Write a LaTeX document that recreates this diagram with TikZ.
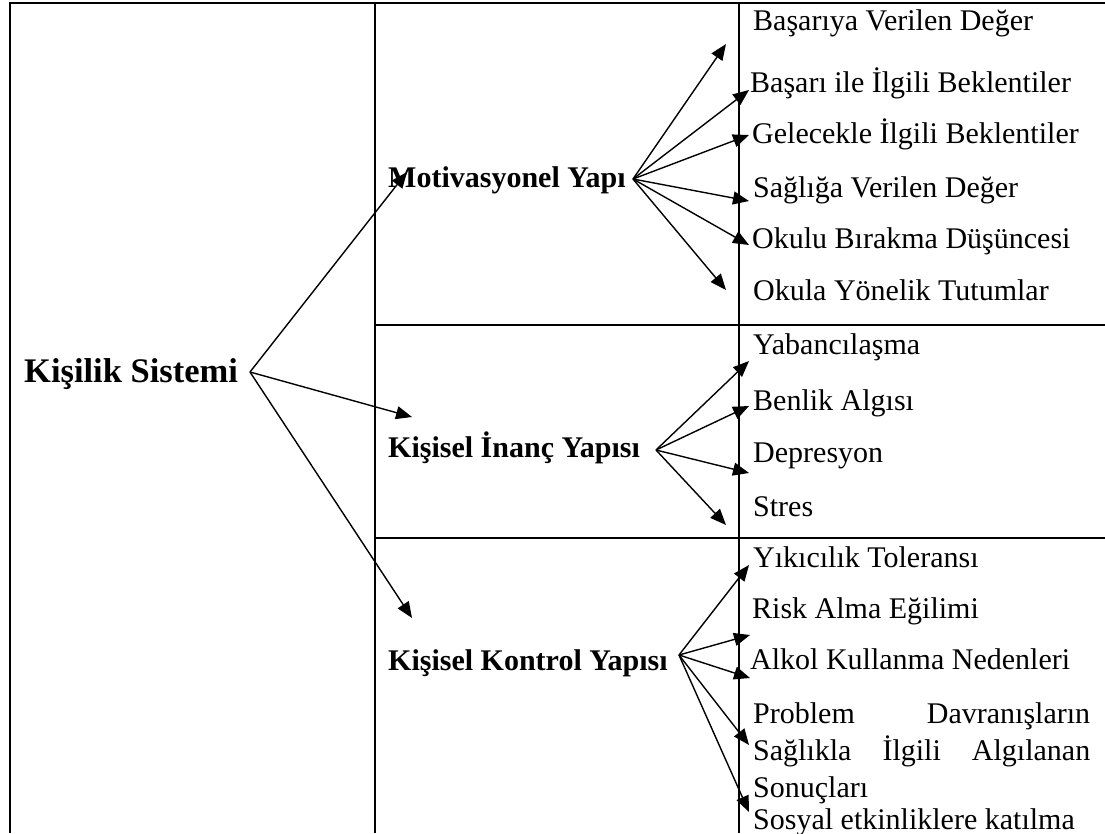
\documentclass[tikz,border=0pt]{standalone}
\usepackage{fontspec}
\setmainfont{Liberation Serif}
\usetikzlibrary{arrows.meta}
\begin{document}
\begin{tikzpicture}[x=1pt,y=-1pt,
  frame/.style={line width=1.6pt},
  conn/.style={line width=1.4pt,-{Triangle[length=16pt,width=13pt]}},
  lbl/.style={anchor=base west,inner sep=0pt,font=\fontsize{30}{36}\selectfont},
  mid/.style={anchor=base west,inner sep=0pt,font=\fontsize{30}{36}\selectfont\bfseries},
  topl/.style={anchor=base west,inner sep=0pt,font=\fontsize{34.5}{40}\selectfont\bfseries}]
\useasboundingbox (0,0) rectangle (1105,833);
% table frame
\draw[frame] (10,833) -- (10,3) -- (1105,3);
\draw[frame] (375,3) -- (375,833);
\draw[frame] (739,3) -- (739,833);
\draw[frame] (375,325) -- (1105,325);
\draw[frame] (375,538) -- (1105,538);
% main nodes
\node[topl] (ks) at (24,382) {Kişilik Sistemi};
\node[mid] (mot) at (388,187) {Motivasyonel Yapı};
\node[mid] (inanc) at (388,457) {Kişisel İnanç Yapısı};
\node[mid] (kontrol) at (388,670) {Kişisel Kontrol Yapısı};
% right labels
\node[lbl] (m1) at (753,30) {Başarıya Verilen Değer};
\node[lbl] (m2) at (750,92) {Başarı ile İlgili Beklentiler};
\node[lbl] (m3) at (752,143) {Gelecekle İlgili Beklentiler};
\node[lbl] (m4) at (753,197) {Sağlığa Verilen Değer};
\node[lbl] (m5) at (752,248) {Okulu Bırakma Düşüncesi};
\node[lbl] (m6) at (753,300) {Okula Yönelik Tutumlar};
\node[lbl] (i1) at (753,354) {Yabancılaşma};
\node[lbl] (i2) at (753,410) {Benlik Algısı};
\node[lbl] (i3) at (753,462) {Depresyon};
\node[lbl] (i4) at (753,516) {Stres};
\node[lbl] (k1) at (753,567) {Yıkıcılık Toleransı};
\node[lbl] (k2) at (752,618) {Risk Alma Eğilimi};
\node[lbl] (k3) at (750,669) {Alkol Kullanma Nedenleri};
\node[lbl] (k4a) at (753,723) {\makebox[337pt][l]{Problem\hfill Davranışların}};
\node[lbl] (k4b) at (753,760) {\makebox[337pt][l]{Sağlıkla\hfill İlgili\hfill Algılanan}};
\node[lbl] (k4c) at (753,797) {Sonuçları};
\node[lbl] (k5) at (753,829) {Sosyal etkinliklere katılma};
% connector ends
\coordinate (ksO) at (250,372);
\coordinate (t1) at (407,172);
\coordinate (t2) at (412,417);
\coordinate (t3) at (412,618);
\coordinate (motO) at (633,179);
\coordinate (mt1) at (726,44);
\coordinate (mt2) at (749,90);
\coordinate (mt3) at (749,135);
\coordinate (mt4) at (749,201);
\coordinate (mt5) at (749,245);
\coordinate (mt6) at (726,290);
\coordinate (inO) at (656,450);
\coordinate (it1) at (749,361);
\coordinate (it2) at (749,406);
\coordinate (it3) at (749,473);
\coordinate (it4) at (726,525);
\coordinate (koO) at (679,655);
\coordinate (kt1) at (749,565);
\coordinate (kt2) at (750,635);
\coordinate (kt3) at (750,678);
\coordinate (kt4) at (749,745);
\coordinate (kt5) at (749,812);
% connectors
\foreach \t in {t1,t2,t3} \draw[conn] (ksO) -- (\t);
\foreach \t in {mt1,mt2,mt3,mt4,mt5,mt6} \draw[conn] (motO) -- (\t);
\foreach \t in {it1,it2,it3,it4} \draw[conn] (inO) -- (\t);
\foreach \t in {kt1,kt2,kt3,kt4,kt5} \draw[conn] (koO) -- (\t);
\end{tikzpicture}
\end{document}
